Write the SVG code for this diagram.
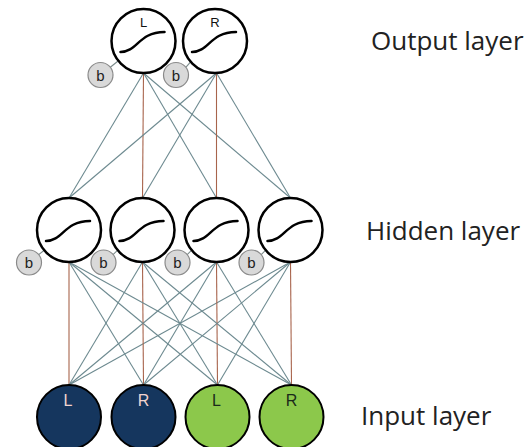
<svg xmlns="http://www.w3.org/2000/svg" xmlns:xlink="http://www.w3.org/1999/xlink" width="532" height="447" viewBox="0 0 532 447">
<style>
.neuron{fill:#fff;stroke:#000;stroke-width:2.5}
.sig{fill:none;stroke:#000;stroke-width:2.5;stroke-linecap:round}
.bias{fill:#d9d9d9;stroke:#8a8a8a;stroke-width:1.2}
.btxt{font-family:"Liberation Sans",Arial,sans-serif;font-size:15px;fill:#222;text-anchor:middle}
.ntxt{font-family:"Liberation Sans",Arial,sans-serif;font-size:13px;fill:#111;text-anchor:middle}
.itxt{font-family:"Liberation Sans",Arial,sans-serif;font-size:16px;text-anchor:middle}
.v{stroke:#a8644c;stroke-width:1.1}
.d{stroke:#6d8a90;stroke-width:1.1}
.bl{stroke:#7a8a8a;stroke-width:1.1}
.navy{fill:#15365e;stroke:#000;stroke-width:2}
.green{fill:#8cc84b;stroke:#000;stroke-width:2}
.layer{font-family:"Open Sans","Noto Sans",sans-serif;font-size:26px;fill:#222}
</style>
<defs>
<path id="sig" class="sig" d="M-23,11 C-6,11 -5,-9 21,-9"/>
</defs>
<rect width="532" height="447" fill="#fff"/>
<g id="connectors" fill="none">
<line class="v" x1="69" y1="385" x2="69" y2="262"/>
<line class="d" x1="69" y1="385" x2="142.5" y2="262"/>
<line class="d" x1="69" y1="385" x2="216.5" y2="262"/>
<line class="d" x1="69" y1="385" x2="290.5" y2="262"/>
<line class="d" x1="143.5" y1="385" x2="69" y2="262"/>
<line class="v" x1="143.5" y1="385" x2="142.5" y2="262"/>
<line class="d" x1="143.5" y1="385" x2="216.5" y2="262"/>
<line class="d" x1="143.5" y1="385" x2="290.5" y2="262"/>
<line class="d" x1="217.5" y1="385" x2="69" y2="262"/>
<line class="d" x1="217.5" y1="385" x2="142.5" y2="262"/>
<line class="v" x1="217.5" y1="385" x2="216.5" y2="262"/>
<line class="d" x1="217.5" y1="385" x2="290.5" y2="262"/>
<line class="d" x1="291.5" y1="385" x2="69" y2="262"/>
<line class="d" x1="291.5" y1="385" x2="142.5" y2="262"/>
<line class="d" x1="291.5" y1="385" x2="216.5" y2="262"/>
<line class="v" x1="291.5" y1="385" x2="290.5" y2="262"/>
<line class="d" x1="69" y1="198" x2="143.5" y2="73"/>
<line class="v" x1="142.5" y1="198" x2="143.5" y2="73"/>
<line class="d" x1="216.5" y1="198" x2="143.5" y2="73"/>
<line class="d" x1="290.5" y1="198" x2="143.5" y2="73"/>
<line class="d" x1="69" y1="198" x2="216.5" y2="73"/>
<line class="d" x1="142.5" y1="198" x2="216.5" y2="73"/>
<line class="v" x1="216.5" y1="198" x2="216.5" y2="73"/>
<line class="d" x1="290.5" y1="198" x2="216.5" y2="73"/>
<line class="bl" x1="110.3" y1="67.2" x2="118.4" y2="60.8"/>
<line class="bl" x1="186" y1="67.2" x2="191.5" y2="60.8"/>
<line class="bl" x1="38.7" y1="254.6" x2="44.2" y2="250.2"/>
<line class="bl" x1="113" y1="254.6" x2="117.7" y2="250.2"/>
<line class="bl" x1="187.2" y1="254.6" x2="191.7" y2="250.2"/>
<line class="bl" x1="261.2" y1="254.6" x2="265.7" y2="250.2"/>
</g>
<g id="out-L">
<circle class="neuron" cx="143.5" cy="41" r="32"/>
<use xlink:href="#sig" x="143.5" y="41"/>
<text class="ntxt" x="143.5" y="27">L</text>
</g>
<g id="out-R">
<circle class="neuron" cx="215" cy="41" r="32"/>
<use xlink:href="#sig" x="215" y="41"/>
<text class="ntxt" x="215" y="27">R</text>
</g>
<g id="out-bias-L"><circle class="bias" cx="100.5" cy="75" r="12.5"/><text class="btxt" x="100.5" y="80.5">b</text></g>
<g id="out-bias-R"><circle class="bias" cx="176" cy="75" r="12.5"/><text class="btxt" x="176" y="80.5">b</text></g>
<g id="hid-1"><circle class="neuron" cx="69" cy="230" r="32"/><use xlink:href="#sig" x="69" y="230"/></g>
<g id="hid-2"><circle class="neuron" cx="142.5" cy="230" r="32"/><use xlink:href="#sig" x="142.5" y="230"/></g>
<g id="hid-3"><circle class="neuron" cx="216.5" cy="230" r="32"/><use xlink:href="#sig" x="216.5" y="230"/></g>
<g id="hid-4"><circle class="neuron" cx="290.5" cy="230" r="32"/><use xlink:href="#sig" x="290.5" y="230"/></g>
<g id="hid-bias-1"><circle class="bias" cx="29" cy="262.5" r="12.5"/><text class="btxt" x="29" y="268">b</text></g>
<g id="hid-bias-2"><circle class="bias" cx="103.5" cy="262.5" r="12.5"/><text class="btxt" x="103.5" y="268">b</text></g>
<g id="hid-bias-3"><circle class="bias" cx="177.5" cy="262.5" r="12.5"/><text class="btxt" x="177.5" y="268">b</text></g>
<g id="hid-bias-4"><circle class="bias" cx="251.5" cy="262.5" r="12.5"/><text class="btxt" x="251.5" y="268">b</text></g>
<g id="in-1"><circle class="navy" cx="69" cy="417" r="32"/><text class="itxt" x="68" y="406" fill="#f2d4d0">L</text></g>
<g id="in-2"><circle class="navy" cx="143.5" cy="417" r="32"/><text class="itxt" x="143.5" y="406" fill="#f2d4d0">R</text></g>
<g id="in-3"><circle class="green" cx="217.5" cy="417" r="32"/><text class="itxt" x="216.5" y="406" fill="#1a2a1a">L</text></g>
<g id="in-4"><circle class="green" cx="291.5" cy="417" r="32"/><text class="itxt" x="291.5" y="406" fill="#1a2a1a">R</text></g>
<g id="labels">
<text class="layer" x="371" y="50">Output layer</text>
<text class="layer" x="366" y="240">Hidden layer</text>
<text class="layer" x="361" y="425">Input layer</text>
</g>
</svg>
